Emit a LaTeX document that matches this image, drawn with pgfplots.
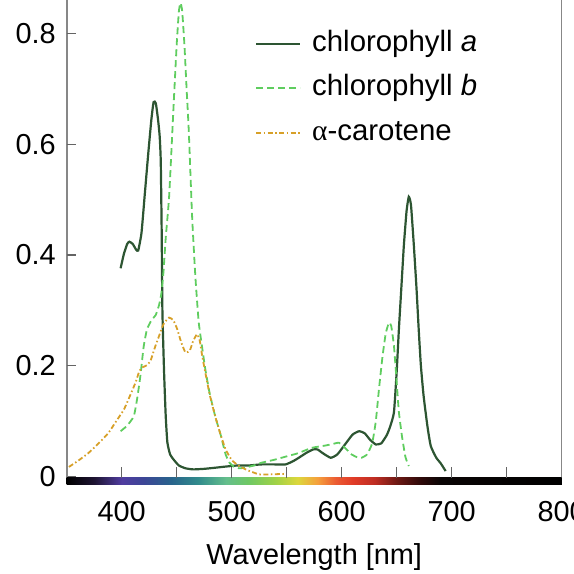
\documentclass[border=0pt]{standalone}
\usepackage{pgfplots}
\pgfplotsset{compat=1.18}
\usepackage{fontspec}
\setmainfont{Liberation Sans}
\newfontfamily\serifgreek{Liberation Serif}
\definecolor{chla}{RGB}{45,85,50}
\definecolor{chlb}{RGB}{95,205,95}
\definecolor{carot}{RGB}{215,160,40}
\definecolor{axgray}{RGB}{135,135,135}
\definecolor{tickgray}{RGB}{100,100,100}
\definecolor{sA}{RGB}{30,20,50}
\definecolor{sB}{RGB}{80,60,160}
\definecolor{sC}{RGB}{60,70,150}
\definecolor{sD}{RGB}{40,100,140}
\definecolor{sE}{RGB}{50,140,140}
\definecolor{sF}{RGB}{100,190,140}
\definecolor{sG}{RGB}{110,200,100}
\definecolor{sH}{RGB}{160,210,70}
\definecolor{sI}{RGB}{220,215,60}
\definecolor{sJ}{RGB}{245,160,60}
\definecolor{sK}{RGB}{235,90,50}
\definecolor{sL}{RGB}{225,60,40}
\definecolor{sM}{RGB}{190,45,35}
\definecolor{sN}{RGB}{110,25,20}
\definecolor{sO}{RGB}{50,10,10}
\definecolor{sP}{RGB}{10,5,5}
\pgfdeclarehorizontalshading{spectrum}{100bp}{color(0bp)=(black); color(25bp)=(black); color(27.78bp)=(sA); color(30.56bp)=(sB); color(32.78bp)=(sC); color(35.56bp)=(sD); color(38.33bp)=(sE); color(41.11bp)=(sF); color(43.33bp)=(sG); color(46.11bp)=(sH); color(48.33bp)=(sI); color(50.33bp)=(sJ); color(52.22bp)=(sK); color(53.89bp)=(sL); color(56.11bp)=(sM); color(58.33bp)=(sN); color(60.56bp)=(sO); color(62.78bp)=(sP); color(75bp)=(black); color(100bp)=(black)}

\pgfplotstableread{
x y
399 0.376
402 0.402
405 0.420
407 0.424
410 0.420
413 0.410
415 0.408
418 0.440
421 0.510
424 0.580
427 0.645
429 0.676
431 0.674
433 0.645
434.5 0.615
435.5 0.57
436.3 0.45
437 0.30
438.5 0.19
440 0.11
441.5 0.062
444 0.040
447.5 0.030
452 0.020
458 0.015
465 0.013
475 0.014
485 0.016
494 0.018
505 0.020
515 0.020
527 0.022
540 0.022
549 0.022
556 0.028
561 0.034
568 0.043
574 0.049
578 0.049
583 0.042
590 0.034
596 0.040
603 0.058
610 0.076
616 0.082
621 0.078
626 0.066
631 0.058
636 0.060
641 0.075
644 0.090
647.5 0.116
650 0.19
652 0.266
654.5 0.35
656.5 0.417
659 0.480
661 0.505
663 0.490
665.6 0.417
668 0.34
670 0.266
672 0.20
674.5 0.145
678 0.09
681 0.055
686 0.034
690 0.024
694.5 0.010
}\chla

\pgfplotstableread{
x y
399 0.082
405 0.092
411 0.109
414 0.14
417 0.182
420 0.235
423 0.266
427 0.282
431 0.292
434 0.310
436 0.33
438 0.37
440 0.43
443 0.502
445.5 0.60
447.5 0.683
450 0.78
452 0.84
453.5 0.855
455 0.84
457 0.78
459 0.70
461 0.623
464 0.47
467 0.36
470 0.279
473 0.235
476 0.194
480 0.150
485 0.109
490 0.075
494.5 0.040
498 0.025
502 0.018
506.5 0.015
512 0.016
520 0.020
527 0.025
538 0.030
549 0.036
560 0.042
573 0.052
585 0.056
592 0.059
597.5 0.061
603 0.052
609 0.040
614 0.035
618 0.034
623 0.040
627.7 0.060
631 0.10
634 0.16
637 0.215
640 0.258
643 0.278
645 0.272
647.5 0.236
650 0.17
652 0.116
655 0.07
658 0.035
661 0.019
}\chlb

\pgfplotstableread{
x y
352 0.0175
360 0.028
370 0.043
380 0.062
388 0.079
395 0.100
402 0.121
408 0.148
412.6 0.170
416 0.190
418.6 0.197
422 0.200
426 0.208
430 0.232
434 0.254
438 0.275
443 0.287
447 0.282
450.5 0.266
454 0.243
458 0.224
462 0.228
465 0.245
468.6 0.257
471 0.245
473 0.22
476 0.188
480 0.148
485 0.109
490 0.075
494.5 0.049
500 0.030
506 0.020
512.6 0.013
519 0.008
525 0.004
535 0.004
549 0.005
}\carot

\begin{document}
\begin{tikzpicture}
\begin{axis}[name=ax, scale only axis, width=495bp, height=499.7bp,
  xmin=350, xmax=800, ymin=-0.002, ymax=0.9,
  clip=false,
  axis line style={draw=axgray, line width=1.6bp},
  every tick/.style={draw=tickgray, line width=1.3bp},
  major tick style={draw=tickgray, line width=1.3bp},
  minor tick style={draw=tickgray, line width=1.3bp},
  tick align=inside, tick pos=left,
  major tick length=9.5bp, minor tick length=9.5bp,
  xtick={400,500,600,700,800}, xticklabels={400,500,600,700,800},
  minor xtick={450,550,650,750},
  ytick={0,0.2,0.4,0.6,0.8}, yticklabels={0,0.2,0.4,0.6,0.8},
  tick label style={font=\fontsize{29}{34}\selectfont, inner sep=0pt},
  xticklabel style={anchor=north, yshift=-23bp},
  yticklabel style={anchor=east, xshift=-10.7bp},
  xlabel={Wavelength [nm]},
  xlabel style={font=\fontsize{29}{34}\selectfont, at={(rel axis cs:0.5,0)}, anchor=north, inner sep=0pt, yshift=-66bp},
  legend cell align=left,
  legend style={draw=none, fill=none, at={(axis cs:521,0.806)}, anchor=north west, inner sep=0pt,
    row sep=17.5bp, column sep=11bp, font=\fontsize{29.5}{34}\selectfont,
    nodes={inner sep=0pt, text height=21bp, text depth=6bp}},
  legend image code/.code={\draw[#1] (0bp,0bp) -- (44bp,0bp);},
]
\fill[shading=spectrum] (axis cs:350,-0.0146) rectangle (axis cs:800,-0.002);
\addplot[tickgray, line width=1.3bp, unbounded coords=jump, forget plot] coordinates {
 (400,-0.002) (400,0.0172) (nan,nan) (450,-0.002) (450,0.0172) (nan,nan)
 (500,-0.002) (500,0.0172) (nan,nan) (550,-0.002) (550,0.0172) (nan,nan)
 (600,-0.002) (600,0.0172) (nan,nan) (650,-0.002) (650,0.0172) (nan,nan)
 (700,-0.002) (700,0.0172) (nan,nan) (750,-0.002) (750,0.0172)};
\addplot[tickgray, line width=1.3bp, unbounded coords=jump, forget plot] coordinates {
 (350,0.2) (358.6,0.2) (nan,nan) (350,0.4) (358.6,0.4) (nan,nan)
 (350,0.6) (358.6,0.6) (nan,nan) (350,0.8) (358.6,0.8)};
\addplot[chla, line width=2.2bp, smooth, tension=0.3] table {\chla};
\addlegendentry{chlorophyll \textit{a}}
\addplot[chlb, line width=1.8bp, dash pattern=on 7bp off 4bp, smooth, tension=0.3] table {\chlb};
\addlegendentry{chlorophyll \textit{b}}
\addplot[carot, line width=1.8bp, dash pattern=on 5bp off 2.5bp on 1.5bp off 2.5bp, smooth, tension=0.3] table {\carot};
\addlegendentry{{\serifgreek α}-carotene}
\end{axis}
\pgfresetboundingbox
\useasboundingbox ([shift={(-66.7bp,-96.3bp)}]ax.south west) rectangle ([shift={(507.3bp,477.7bp)}]ax.south west);
\end{tikzpicture}
\end{document}
